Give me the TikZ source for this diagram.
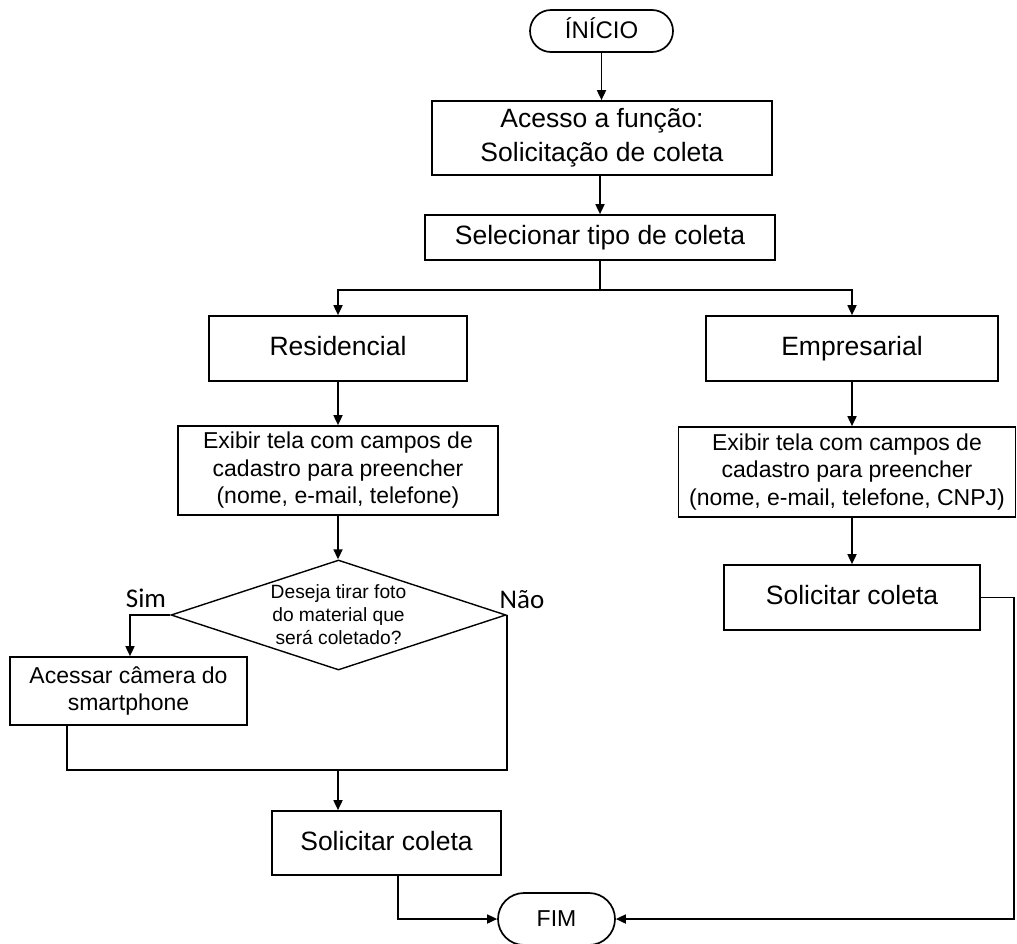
\documentclass[tikz,border=0pt]{standalone}
\usepackage{fontspec}
\setmainfont{Liberation Sans}
\newfontfamily\labfont{Carlito}
\usetikzlibrary{shapes.geometric,shapes.misc,arrows.meta}
\begin{document}
\begin{tikzpicture}[x=1pt,y=-1pt,
  line width=1.7pt,
  box/.style={draw, rectangle, inner sep=0pt, align=center},
  term/.style={draw, rounded rectangle, inner sep=0pt, align=center},
  big/.style={font=\fontsize{26.5}{31}\selectfont},
  mid/.style={font=\fontsize{23}{27.5}\selectfont},
  one/.style={text height=19pt, text depth=5pt},
  arr/.style={-{Triangle[length=10pt,width=9pt]}},
  lab/.style={font=\labfont\fontsize{27}{30}\selectfont}]
\useasboundingbox (0,0) rectangle (1017,943);

\node[term, font=\fontsize{24}{28}\selectfont, one, minimum width=143pt, minimum height=42pt] (inicio) at (601.5,31) {ÍNÍCIO};
\node[box, font=\fontsize{26.5}{34}\selectfont, minimum width=340pt, minimum height=74pt] (acesso) at (602,138) {Acesso a função:\\Solicitação de coleta};
\node[box, big, one, minimum width=350pt, minimum height=45pt] (sel) at (600,237.5) {Selecionar tipo de coleta};
\node[box, big, one, minimum width=258pt, minimum height=65pt] (res) at (338,348.5) {Residencial};
\node[box, big, one, minimum width=292pt, minimum height=65pt] (emp) at (852,348.5) {Empresarial};
\node[box, mid, minimum width=320pt, minimum height=89pt] (exL) at (338,470.5) {Exibir tela com campos de\\cadastro para preencher\\(nome, e-mail, telefone)};
\node[box, mid, minimum width=337pt, minimum height=90pt] (exR) at (847,472) {Exibir tela com campos de\\cadastro para preencher\\(nome, e-mail, telefone, CNPJ)};
\node[box, big, one, minimum width=256pt, minimum height=65pt] (solR) at (852,597.5) {Solicitar coleta};
\node[draw, diamond, shape aspect=3.05, inner sep=0pt, align=center, line width=1.4pt,
      minimum width=335pt, minimum height=110pt,
      font=\fontsize{19.2}{23}\selectfont] (dq) at (338.5,615) {Deseja tirar foto\\do material que\\será coletado?};
\node[box, mid, minimum width=237pt, minimum height=68pt] (acc) at (128.5,691) {Acessar câmera do\\smartphone};
\node[box, big, one, minimum width=229pt, minimum height=64pt] (solL) at (386.5,843) {Solicitar coleta};
\node[term, mid, one, minimum width=117pt, minimum height=52pt] (fim) at (556.5,919) {FIM};

\node[lab] (sim) at (146,598) {Sim};
\node[lab] (nao) at (522,600) {Não};

\coordinate (split) at (600,290);
\coordinate (mL) at (67,770);
\coordinate (mM) at (338,770);

\draw[arr] (inicio.south) -- (inicio.south |- acesso.north);
\draw[arr] (acesso.south -| sel.north) -- (sel.north);
\draw (sel.south) -- (split);
\draw[arr] (split) -| (res.north);
\draw[arr] (split) -| (emp.north);
\draw[arr] (res.south) -- (exL.north);
\draw[arr] (emp.south) -- (emp.south |- exR.north);
\draw[arr] (emp.south |- exR.south) -- (solR.north);
\draw[arr] (exL.south) -- (exL.south |- dq.north);
\draw[arr] (dq.west) -| (acc.north -| 130,0);
\draw (acc.south -| mL) -- (mL) -- (mL -| dq.east) -- (dq.east);
\draw[arr] (mM) -- (mM |- solL.north);
\draw[arr] ([xshift=11.5pt]solL.south) |- (fim.west);
\draw[arr] (solR.east) -- ++(33,0) |- (fim.east);
\end{tikzpicture}
\end{document}
